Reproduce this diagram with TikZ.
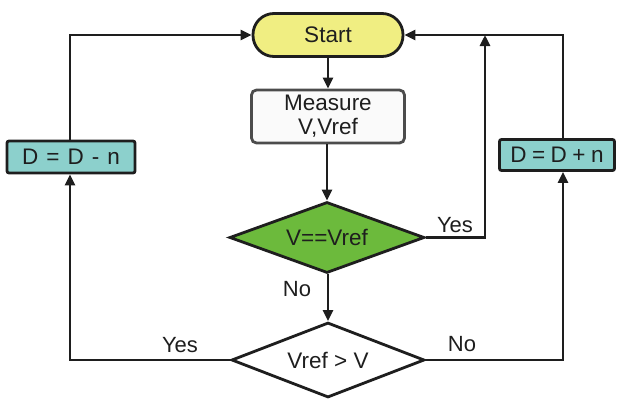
\documentclass[tikz,border=0pt]{standalone}
\usepackage{fontspec}
\setmainfont{Liberation Sans}
\usetikzlibrary{shapes.geometric,arrows.meta}
\definecolor{startyellow}{RGB}{240,238,130}
\definecolor{boxfill}{RGB}{250,250,250}
\definecolor{greenfill}{RGB}{108,186,60}
\definecolor{cyanfill}{RGB}{140,208,204}
\definecolor{linecol}{RGB}{30,30,30}
\newcommand{\gp}{\hspace{8pt}}
\newcommand{\gq}{\hspace{5.5pt}}
\begin{document}
\begin{tikzpicture}[x=1pt,y=-1pt,
  every node/.style={font=\fontsize{22.5}{24}\selectfont, inner sep=0pt, text=linecol},
  block/.style={draw=linecol, line width=2.8pt, align=center},
  decision/.style={block, diamond, shape aspect=2.75},
  conn/.style={draw=linecol, line width=2.8pt},
  arr/.style={conn, -{Triangle[length=11pt,width=10pt]}},
  lab/.style={font=\fontsize{22}{24}\selectfont, text=linecol}
]
\useasboundingbox (0,0) rectangle (625,399);
\node[block, fill=startyellow, rounded corners=21pt, minimum width=150pt, minimum height=43pt] (start) at (328,35) {Start};
\node[block, fill=boxfill, rounded corners=5pt, minimum width=153pt, minimum height=53pt, draw=black!70] (meas) at (328,116.5) {Measure\\V,Vref};
\node[decision, fill=greenfill, minimum width=195pt, minimum height=71pt] (d1) at (327,237.5) {V==Vref};
\node[decision, fill=white, minimum width=193pt, minimum height=75pt] (d2) at (328,360) {Vref > V};
\node[block, fill=cyanfill, rounded corners=2pt, minimum width=128pt, minimum height=32pt] (dm) at (71,157) {D\gp=\gp D\gp-\gp n};
\node[block, fill=cyanfill, rounded corners=2pt, minimum width=115pt, minimum height=31pt] (dp) at (557,155) {D\gq=\gq D\gq+\gq n};

\coordinate (yesc) at (485,237.5);
\coordinate (yest) at (485,35);
\coordinate (rtop) at (563,35);
\coordinate (rbot) at (563,360);
\coordinate (ltop) at (70,35);
\coordinate (lbot) at (70,360);

\draw[arr] (start.south) -- (meas.north);
\draw[arr] (meas.south -| d1.north) -- (d1.north);
\draw[arr] (d1.south -| d2.north) -- (d2.north);
\draw[arr] (d1.east) -- (yesc) -- (yest);
\draw[arr] (dp.north -| rtop) -- (rtop) -- (start.east);
\draw[arr] (d2.east) -- (rbot) -- (dp.south -| rbot);
\draw[arr] (d2.west) -- (lbot) -- (dm.south -| lbot);
\draw[arr] (dm.north -| ltop) -- (ltop) -- (start.west);

\node[lab] (yes1) at (455,225) {Yes};
\node[lab] (no1) at (297,289) {No};
\node[lab] (yes2) at (180,345) {Yes};
\node[lab] (no2) at (462,344) {No};
\end{tikzpicture}
\end{document}
